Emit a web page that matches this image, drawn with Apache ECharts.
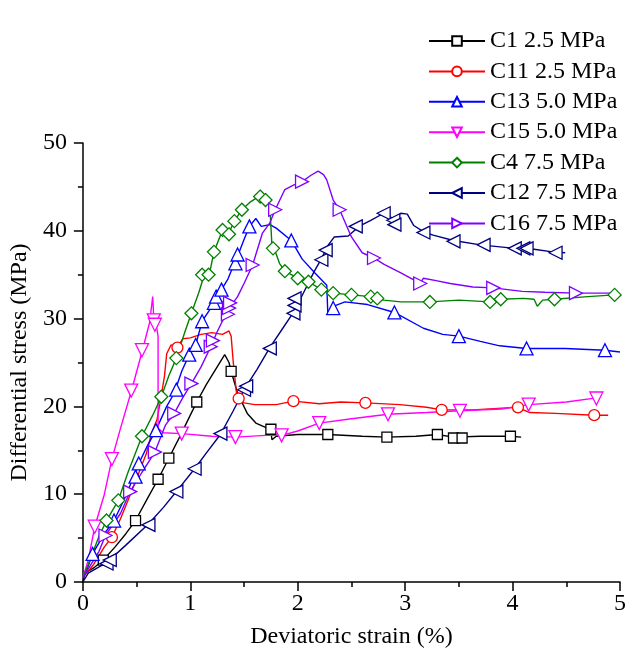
<!DOCTYPE html>
<html>
<head>
<meta charset="utf-8">
<script src="https://cdn.jsdelivr.net/npm/echarts@6/dist/echarts.min.js"></script>
<style>html,body{margin:0;padding:0;background:#fff}#c{width:629px;height:663px}</style>
</head>
<body>
<div id="c"></div>
<script>
// ---- data ----
const names = ['C1 2.5 MPa','C11 2.5 MPa','C13 5.0 MPa','C15 5.0 MPa','C4 7.5 MPa','C12 7.5 MPa','C16 7.5 MPa'];
const xTicks = [0,1,2,3,4,5];
const yTicks = [0,10,20,30,40,50];

const c1Line = [[0,0],[0.02,1.0],[0.1,1.6],[0.19,2.5],[0.3,4],[0.4,5.5],[0.49,7],[0.6,9.5],[0.7,11.7],[0.8,14.1],[0.9,16.5],[1.0,19],[1.06,20.5],[1.15,22.5],[1.25,24.5],[1.32,25.9],[1.36,25],[1.38,24],[1.44,21.5],[1.53,19.2],[1.61,18.1],[1.70,17.6],[1.75,17.2],[1.76,16.2],[1.8,16.6],[2.0,16.8],[2.28,16.8],[2.6,16.6],[2.83,16.5],[3.1,16.6],[3.3,16.8],[3.45,16.5],[3.7,16.6],[3.98,16.6],[4.08,16.5]];
const c1Marks = [[0.19,2.5],[0.49,7.0],[0.70,11.7],[0.80,14.1],[1.06,20.5],[1.38,24.0],[1.75,17.4],[2.28,16.8],[2.83,16.5],[3.30,16.8],[3.45,16.4],[3.53,16.4],[3.98,16.6]];

const c11Line = [[0,0.5],[0.1,2],[0.2,4],[0.27,5.1],[0.35,7.2],[0.42,9.3],[0.5,11.8],[0.59,14.6],[0.64,17],[0.69,18.5],[0.72,20.5],[0.76,23.5],[0.78,26],[0.82,27],[0.88,26.8],[0.93,27.7],[1.0,27.8],[1.1,28.2],[1.2,28.4],[1.3,28.2],[1.36,28.6],[1.38,28],[1.40,25],[1.43,21.5],[1.45,20.9],[1.5,20.4],[1.6,20.2],[1.8,20.2],[1.96,20.6],[2.2,20.3],[2.4,20.5],[2.63,20.4],[2.95,20.2],[3.2,19.9],[3.34,19.6],[3.63,19.6],[3.9,19.8],[4.05,19.9],[4.16,19.3],[4.4,19.2],[4.76,19.0],[4.89,19.0]];
const c11Marks = [[0.27,5.1],[0.88,26.7],[1.45,20.9],[1.96,20.6],[2.63,20.4],[3.34,19.6],[4.05,19.9],[4.76,19.0]];

const c13Line = [[0,0.5],[0.04,1.5],[0.09,3.2],[0.2,5.5],[0.29,7.0],[0.4,9.8],[0.52,13.5],[0.6,15.5],[0.68,17.3],[0.78,20],[0.85,21.5],[0.92,24],[0.99,25.9],[1.05,27.0],[1.11,29.7],[1.18,31],[1.22,31.8],[1.29,33.3],[1.35,34.5],[1.40,36.0],[1.44,37.1],[1.5,39],[1.55,40.5],[1.61,41.4],[1.66,40.5],[1.74,40.7],[1.8,40.3],[1.94,38.9],[2.04,36.8],[2.16,35.2],[2.27,33.8],[2.28,30.6],[2.33,31.4],[2.44,31.9],[2.65,31.6],[2.90,30.7],[3.17,28.9],[3.35,28.2],[3.50,28.0],[3.7,27.4],[3.88,26.9],[4.13,26.6],[4.49,26.6],[4.86,26.4],[5.0,26.2]];
const c13Marks = [[0.09,3.2],[0.29,7.0],[0.49,12.0],[0.52,13.5],[0.68,17.3],[0.87,21.9],[0.99,25.9],[1.05,27.0],[1.11,29.7],[1.22,31.8],[1.24,32.5],[1.29,33.3],[1.42,36.3],[1.44,37.3],[1.55,40.5],[1.94,38.9],[2.33,31.2],[2.90,30.7],[3.50,28.0],[4.13,26.6],[4.86,26.4]];

const c15Line = [[0,0.5],[0.05,2.5],[0.11,6.3],[0.2,10],[0.27,14],[0.35,17.5],[0.45,21.7],[0.55,26.2],[0.62,29.5],[0.65,32.5],[0.66,30],[0.68,29.5],[0.70,28],[0.70,17.5],[0.75,17],[0.92,16.9],[1.2,16.6],[1.42,16.5],[1.7,16.7],[1.85,16.7],[2.0,17.2],[2.2,18.1],[2.5,18.6],[2.84,19.1],[3.2,19.3],[3.51,19.5],[3.9,19.7],[4.15,20.2],[4.5,20.5],[4.8,21.0]];
const c15Marks = [[0.11,6.3],[0.27,14.0],[0.45,21.8],[0.55,26.4],[0.66,29.8],[0.67,29.3],[0.92,16.9],[1.42,16.5],[1.85,16.7],[2.2,18.1],[2.84,19.1],[3.51,19.5],[4.15,20.2],[4.78,20.9]];

const c4Line = [[0,0.5],[0.05,2],[0.15,5.2],[0.22,7.0],[0.33,9.3],[0.42,12.5],[0.55,16.6],[0.65,19],[0.73,21.1],[0.8,23.5],[0.87,25.5],[0.95,28.5],[1.01,30.6],[1.08,33],[1.13,35],[1.18,35.2],[1.22,37.6],[1.30,40.1],[1.36,39.8],[1.41,41.1],[1.48,42.4],[1.56,43.3],[1.65,44.0],[1.70,43.6],[1.74,42.8],[1.76,38.3],[1.78,38.0],[1.83,36.3],[1.88,35.4],[2.0,34.6],[2.1,34.2],[2.22,33.3],[2.33,32.9],[2.5,32.7],[2.68,32.5],[2.8,32.1],[2.96,31.9],[3.23,31.9],[3.5,32.1],[3.79,31.9],[3.89,32.2],[4.1,32.3],[4.2,32.2],[4.23,31.4],[4.28,32.1],[4.39,32.2],[4.7,32.5],[4.95,32.7],[5.0,32.7]];
const c4Marks = [[0.22,7.0],[0.33,9.3],[0.55,16.6],[0.73,21.1],[0.87,25.5],[1.01,30.6],[1.11,35.0],[1.17,35.0],[1.22,37.6],[1.30,40.1],[1.36,39.6],[1.41,41.1],[1.48,42.4],[1.65,43.9],[1.70,43.5],[1.77,38.0],[1.88,35.4],[2.0,34.6],[2.10,34.2],[2.22,33.3],[2.33,32.9],[2.50,32.7],[2.68,32.5],[2.74,32.3],[3.23,31.9],[3.79,31.9],[3.89,32.2],[4.39,32.2],[4.95,32.7]];

const c12Line = [[0,0],[0.05,1.0],[0.22,2.2],[0.4,4.2],[0.61,6.6],[0.75,8.5],[0.87,10.3],[1.04,12.9],[1.15,14.7],[1.28,16.8],[1.4,19.5],[1.50,21.9],[1.62,24.2],[1.74,26.7],[1.85,28.7],[1.96,30.7],[2.04,32.6],[2.15,35.3],[2.22,36.8],[2.28,38.3],[2.34,39.3],[2.47,39.4],[2.57,40.5],[2.68,41.2],[2.80,42.0],[2.89,41.4],[2.96,42.0],[3.02,41.9],[3.08,40.6],[3.17,39.9],[3.26,39.5],[3.45,38.9],[3.7,38.4],[4.02,38.0],[4.2,37.9],[4.37,37.6],[4.49,37.5]];
const c12Marks = [[0.22,2.1],[0.25,2.5],[0.61,6.5],[0.87,10.3],[1.04,12.9],[1.28,16.9],[1.50,21.9],[1.52,22.3],[1.74,26.6],[1.96,30.6],[1.97,31.5],[1.97,32.3],[2.22,36.7],[2.26,37.8],[2.54,40.5],[2.80,42.0],[2.89,41.2],[2.90,40.7],[3.17,39.8],[3.45,38.8],[3.73,38.4],[4.02,38.0],[4.10,38.0],[4.13,38.0],[4.40,37.5]];

const c16Line = [[0,0.5],[0.05,1.5],[0.15,3.5],[0.21,5.3],[0.35,7.8],[0.44,10.3],[0.55,12.5],[0.67,14.8],[0.77,17.9],[0.85,19.2],[0.93,21],[1.01,22.6],[1.1,24.5],[1.19,26.8],[1.25,28.5],[1.35,31.0],[1.44,32.5],[1.5,34],[1.58,36.1],[1.67,39.7],[1.74,40.9],[1.79,42.4],[1.88,44.7],[1.96,45.2],[2.04,45.6],[2.12,46.3],[2.19,46.8],[2.24,46.4],[2.27,45.8],[2.33,43.5],[2.39,42.4],[2.50,39.3],[2.60,37.5],[2.71,36.9],[2.8,36.2],[2.96,35.2],[3.14,34.0],[3.17,34.6],[3.3,34.3],[3.42,34.0],[3.63,33.6],[3.82,33.5],[4.09,33.1],[4.3,33.0],[4.59,32.9],[4.98,32.9]];
const c16Marks = [[0.21,5.3],[0.44,10.3],[0.67,14.8],[0.85,19.2],[1.01,22.6],[1.19,26.8],[1.21,27.5],[1.35,30.5],[1.36,31.2],[1.37,31.8],[1.58,36.1],[1.79,42.4],[2.04,45.6],[2.39,42.4],[2.71,36.9],[3.14,34.0],[3.82,33.5],[4.59,32.9]];

const lines = [c1Line,c11Line,c13Line,c15Line,c4Line,c12Line,c16Line];
const marks = [c1Marks,c11Marks,c13Marks,c15Marks,c4Marks,c12Marks,c16Marks];
const colors = ['#000000','#ff0000','#0000ff','#ff00ff','#008000','#000080','#8000ff'];
const symbols = ['rect','circle','triangle','triangle','diamond','triangle','triangle'];
const rotates = [0,0,0,180,0,90,-90];
const sizes = [10,11,13,13,13,13,13];

const FONT = "'Times New Roman','Liberation Serif',serif";
const series = [];
names.forEach((n,i)=>{
  series.push({
    name:n, type:'line', data:lines[i], showSymbol:false,
    symbol:symbols[i], symbolRotate:rotates[i], symbolSize:sizes[i],
    itemStyle:{color:'#fff', borderColor:colors[i], borderWidth:1.3},
    lineStyle:{color:colors[i], width:1.4},
    animation:false, silent:true, z:2
  });
});
names.forEach((n,i)=>{
  series.push({
    name:n, type:'scatter', data:marks[i],
    symbol:symbols[i], symbolRotate:rotates[i], symbolSize:sizes[i],
    itemStyle:{color:'#fff', borderColor:colors[i], borderWidth:1.3, opacity:1},
    animation:false, silent:true, z:3
  });
});

const chart = echarts.init(document.getElementById('c'));
chart.setOption({
  backgroundColor:'#fff',
  animation:false,
  grid:{left:79, right:7, top:143, bottom:81},
  legend:{
    orient:'vertical', left:428, top:29, padding:0,
    itemWidth:56, itemHeight:12, itemGap:6.4,
    data:names,
    textStyle:{fontFamily:FONT, fontSize:24, color:'#000', lineHeight:24},
    selectedMode:false
  },
  xAxis:{
    type:'value', min:xTicks[0], max:xTicks[xTicks.length-1], interval:1,
    name:'Deviatoric strain (%)', nameLocation:'middle', nameGap:43,
    nameTextStyle:{fontFamily:FONT, fontSize:24, color:'#000'},
    axisLine:{lineStyle:{color:'#000', width:1.5}},
    axisTick:{inside:false, length:9, lineStyle:{color:'#000', width:1.5}},
    minorTick:{show:true, splitNumber:2, length:5, lineStyle:{color:'#000', width:1.5}},
    axisLabel:{fontFamily:FONT, fontSize:24, color:'#000', margin:10},
    splitLine:{show:false}
  },
  yAxis:{
    type:'value', min:yTicks[0], max:yTicks[yTicks.length-1], interval:10,
    name:'Differential stress (MPa)', nameLocation:'middle', nameGap:46, nameRotate:90,
    nameTextStyle:{fontFamily:FONT, fontSize:24, color:'#000'},
    axisLine:{show:true, lineStyle:{color:'#000', width:1.5}},
    axisTick:{show:true, inside:false, length:9, lineStyle:{color:'#000', width:1.5}},
    minorTick:{show:true, splitNumber:2, length:5, lineStyle:{color:'#000', width:1.5}},
    axisLabel:{fontFamily:FONT, fontSize:24, color:'#000', margin:16},
    splitLine:{show:false}
  },
  series:series
});
</script>
</body>
</html>
